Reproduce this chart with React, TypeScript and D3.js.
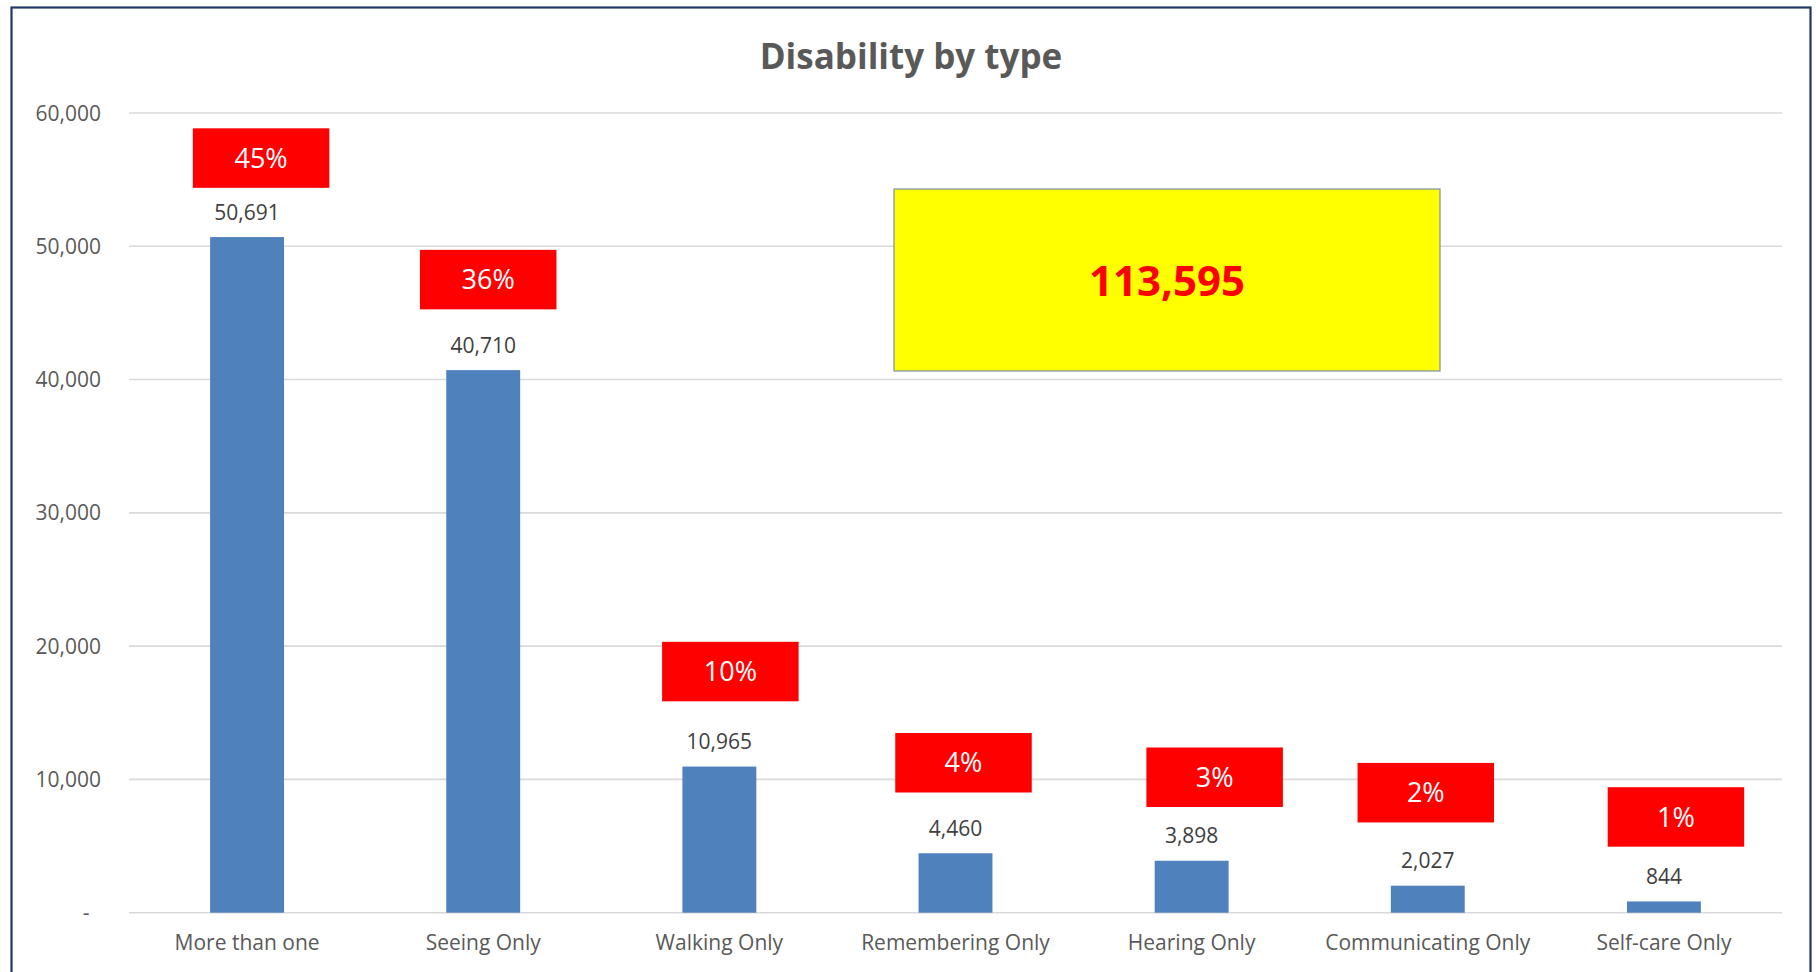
import React from "react";
import * as d3 from "d3";

const categories = [
  "More than one",
  "Seeing Only",
  "Walking Only",
  "Remembering Only",
  "Hearing Only",
  "Communicating Only",
  "Self-care Only",
];
const values = [50691, 40710, 10965, 4460, 3898, 2027, 844];
const yTicks = [0, 10000, 20000, 30000, 40000, 50000, 60000];

// Layout: manual nudges of the percentage call-outs (px from bar centre / bar top)
const pctNudgeX = [14, 5, 11, 8, 23, -2, 12];
const pctNudgeY = [-79, -90.5, -95, -90.5, -83.5, -93, -84.5];

const W = 1816;
const H = 972;
const FONT = "'Open Sans', sans-serif";

export default function App() {
  const total = d3.sum(values);
  const x = d3
    .scaleBand<string>()
    .domain(categories)
    .range([129, 1782])
    .paddingInner(0.687)
    .paddingOuter(0.3435);
  const y = d3.scaleLinear().domain([0, 60000]).range([912.7, 113]);
  const fmt = d3.format(",");
  const pct = (v: number) => `${Math.round((v / total) * 100)}%`;

  const boxW = 136.5;
  const boxH = 59.5;

  return (
    <svg
      width={W}
      height={H}
      style={{ position: "absolute", left: 0, top: 0, background: "#fff" }}
      fontFamily={FONT}
    >
      <rect x={0} y={0} width={W} height={H} fill="#fff" />
      <rect x={11.5} y={7.5} width={1799} height={980} fill="#fff" stroke="#203864" strokeWidth={2.2} />

      <text x={911} y={69} textAnchor="middle" fontSize={35} fontWeight={700} fill="#595959">
        Disability by type
      </text>

      {yTicks.map((t) => (
        <g key={t}>
          <line x1={129} x2={1782} y1={y(t)} y2={y(t)} stroke="#d9d9d9" strokeWidth={1.6} />
          <text
            x={t === 0 ? 89.5 : 101}
            y={y(t)}
            dy="0.36em"
            textAnchor="end"
            fontSize={21}
            fill="#595959"
          >
            {t === 0 ? "-" : fmt(t)}
          </text>
        </g>
      ))}

      {categories.map((c, i) => {
        const v = values[i];
        const bx = x(c)!;
        const bw = x.bandwidth();
        const cx = bx + bw / 2;
        const top = y(v);
        const boxCx = cx + pctNudgeX[i];
        const boxCy = top + pctNudgeY[i];
        return (
          <g key={c}>
            <rect x={bx} y={top} width={bw} height={y(0) - top} fill="#4F81BD" />
            <text x={cx} y={top - 17.5} textAnchor="middle" fontSize={21} fill="#404040">
              {fmt(v)}
            </text>
            <rect x={boxCx - boxW / 2} y={boxCy - boxH / 2} width={boxW} height={boxH} fill="#FF0000" />
            <text x={boxCx} y={boxCy} dy="0.36em" textAnchor="middle" fontSize={27} fill="#ffffff">
              {pct(v)}
            </text>
            <text x={cx} y={950} textAnchor="middle" fontSize={21} fill="#595959">
              {c}
            </text>
          </g>
        );
      })}

      <rect x={894} y={189} width={546} height={182} fill="#FFFF00" stroke="#7d8da8" strokeWidth={1.2} />
      <text x={1167} y={281} dy="0.36em" textAnchor="middle" fontSize={42} fontWeight={700} fill="#FF0000">
        {fmt(total)}
      </text>
    </svg>
  );
}
